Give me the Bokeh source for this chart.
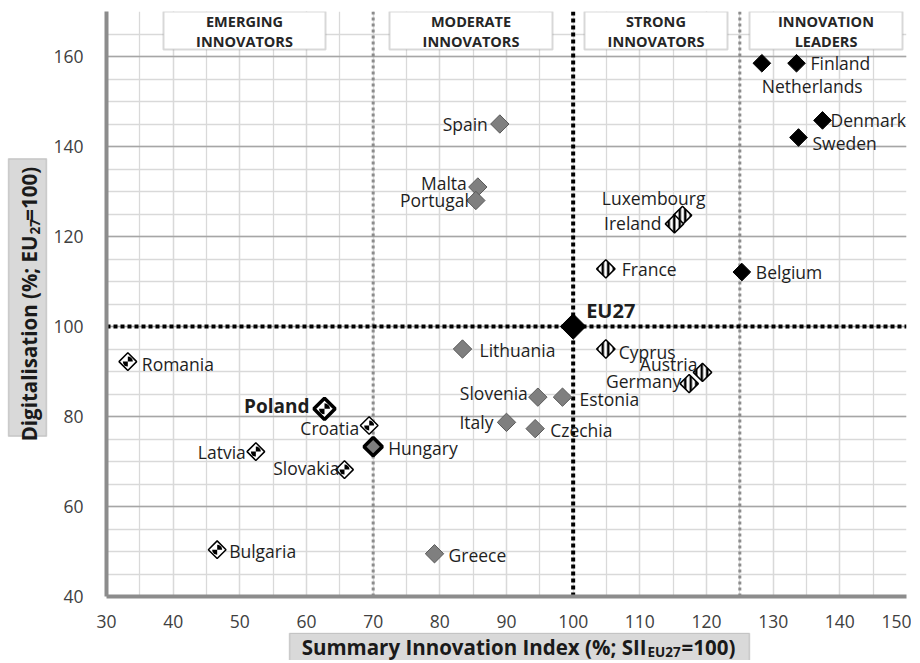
import numpy as np
from bokeh.plotting import figure
from bokeh.layouts import row, column
from bokeh.models import (Span, BoxAnnotation, Label, SingleIntervalTicker, Range1d,
                          ColumnDataSource)
from bokeh.core.properties import value, field
from bokeh.embed import file_html
from bokeh.resources import INLINE

# ---------------- data ----------------
countries = ["Finland", "Netherlands", "Denmark", "Sweden", "Belgium",
             "Luxembourg", "Ireland", "France", "Cyprus", "Austria", "Germany",
             "Estonia", "Spain", "Malta", "Portugal", "Lithuania", "Slovenia",
             "Italy", "Czechia", "Greece", "Hungary",
             "Croatia", "Poland", "Latvia", "Slovakia", "Romania", "Bulgaria",
             "EU27"]
sii = [133.5, 128.3, 137.4, 133.8, 125.3,
       116.4, 115.2, 104.9, 104.9, 119.4, 117.4,
       98.4, 89.0, 85.7, 85.4, 83.4, 94.7,
       90.0, 94.3, 79.2, 70.0,
       69.4, 62.7, 52.4, 65.7, 33.2, 46.6,
       100.0]
digitalisation = [158.5, 158.5, 145.8, 142.0, 112.1,
                  124.7, 122.8, 112.8, 95.0, 89.8, 87.3,
                  84.3, 145.0, 131.0, 128.0, 95.0, 84.3,
                  78.7, 77.3, 49.5, 73.3,
                  78.0, 81.7, 72.2, 68.2, 92.2, 50.4,
                  100.0]
group = ["leader"] * 5 + ["strong"] * 6 + ["moderate"] * 10 + ["emerging"] * 6 + ["eu"]

group_titles = [("EMERGING", "INNOVATORS"), ("MODERATE", "INNOVATORS"),
                ("STRONG", "INNOVATORS"), ("INNOVATION", "LEADERS")]
group_thresholds = [70, 125]      # group borders on the SII axis
eu_reference = 100                # EU27 = 100 on both axes

# ---------------- layout (window pixels) ----------------
ORG = 1                     # page origin of the layout
X_MIN, X_MAX, Y_MIN, Y_MAX = 30, 150, 40, 170
FRAME_L, FRAME_T, FRAME_W, FRAME_H = 107, 12, 800, 585
YFIG_W = 49                 # left strip holding the y title
MAIN_BOTTOM = 633           # window y where main canvas ends
XFIG_H = 28


def xd(px):
    return X_MIN + (px - FRAME_L) * (X_MAX - X_MIN) / FRAME_W


def yd(py):
    return Y_MAX - (py - FRAME_T) * (Y_MAX - Y_MIN) / FRAME_H


# label offsets (screen px): dx, dy (down), alignment
label_pos = {
    "Finland": (14, 0, "left"), "Netherlands": (0, 23, "left"),
    "Denmark": (8, 0, "left"), "Sweden": (14, 5, "left"),
    "Belgium": (14, 0, "left"), "Luxembourg": (23, -17, "right"),
    "Ireland": (-13, -1, "right"), "France": (16, 0, "left"),
    "Cyprus": (13, 3, "left"), "Austria": (-5, -8, "right"),
    "Germany": (-8, -3, "right"), "Estonia": (17, 2, "left"),
    "Spain": (-12, 0, "right"), "Malta": (-11, -4, "right"),
    "Portugal": (-7, -1, "right"), "Lithuania": (17, 1, "left"),
    "Slovenia": (-10, -4, "right"), "Italy": (-13, 0, "right"),
    "Czechia": (15, 1, "left"), "Greece": (14, 1, "left"),
    "Hungary": (15, 1, "left"), "Croatia": (-10, 2, "right"),
    "Poland": (-15, -3, "right"), "Latvia": (-10, 0, "right"),
    "Slovakia": (-5, -2, "right"), "Romania": (14, 2, "left"),
    "Bulgaria": (12, 1, "left"), "EU27": (13, -16, "left"),
}
box_px = [(164, 326), (390, 553), (585, 728), (750, 903)]

FONT = "Open Sans"

main_left = ORG + YFIG_W
p = figure(frame_width=FRAME_W, frame_height=FRAME_H,
           x_range=Range1d(X_MIN, X_MAX), y_range=Range1d(Y_MIN, Y_MAX),
           output_backend="svg", toolbar_location=None, title=None,
           min_border_left=FRAME_L - main_left, min_border_right=5,
           min_border_top=FRAME_T - ORG,
           min_border_bottom=MAIN_BOTTOM - (FRAME_T + FRAME_H),
           outline_line_color=None,
           background_fill_color="white", border_fill_color="white")

# axes
xt = SingleIntervalTicker(interval=10, num_minor_ticks=2)
yt = SingleIntervalTicker(interval=20, num_minor_ticks=4)
p.xaxis.ticker = xt
p.yaxis.ticker = yt
p.xgrid.ticker = xt
p.ygrid.ticker = yt
for ax in (p.xaxis, p.yaxis):
    ax.axis_line_color = "#8c8c8c"
    ax.axis_line_width = 4
    ax.major_tick_line_color = None
    ax.minor_tick_line_color = None
    ax.major_label_text_font = FONT
    ax.major_label_text_font_size = "17.5px"
    ax.major_label_text_color = "#404040"
p.xaxis.major_label_standoff = 12
p.yaxis.major_label_standoff = 17

p.xgrid.grid_line_color = "#d9d9d9"
p.xgrid.grid_line_width = 1.3
p.xgrid.minor_grid_line_color = "#d9d9d9"
p.xgrid.minor_grid_line_width = 1.3
p.ygrid.grid_line_color = "#a6a6a6"
p.ygrid.grid_line_width = 1.3
p.ygrid.minor_grid_line_color = "#d9d9d9"
p.ygrid.minor_grid_line_width = 1.3

# threshold lines
for t in group_thresholds:
    p.add_layout(Span(location=t, dimension="height", line_color="#8c8c8c",
                      line_width=3, line_dash="3 3", level="underlay"))
p.add_layout(Span(location=eu_reference, dimension="height", line_color="black",
                  line_width=4, line_dash="4 3", level="underlay"))
p.add_layout(Span(location=eu_reference, dimension="width", line_color="black",
                  line_width=4, line_dash="4 3", level="underlay"))

# group boxes
for (l, r), (t1, t2) in zip(box_px, group_titles):
    p.add_layout(BoxAnnotation(left=xd(l), right=xd(r), top=yd(12), bottom=yd(50),
                               fill_color="white", fill_alpha=1,
                               line_color="#7f7f7f", line_width=2, level="annotation"))
    for txt, py in ((t1, 22), (t2, 42)):
        p.add_layout(Label(x=xd((l + r) / 2), y=yd(py), text=txt,
                           text_align="center", text_baseline="middle",
                           text_font=FONT, text_font_style="bold",
                           text_font_size="14.5px", text_color="#262626"))

# data source
dx = [label_pos[c][0] for c in countries]
dy = [label_pos[c][1] for c in countries]
al = [label_pos[c][2] for c in countries]
src = ColumnDataSource(dict(name=countries, x=sii, y=digitalisation, g=group,
                            dx=dx, dy=dy, align=al))

special = ["Poland", "Hungary", "EU27"]


def sub(names=None, groups=None, exclude=()):
    idx = [i for i, c in enumerate(countries)
           if (names is None or c in names) and (groups is None or group[i] in groups)
           and c not in exclude]
    return ColumnDataSource({k: [v[i] for i in idx] for k, v in src.data.items()})


ANG = np.pi / 4

p.scatter("x", "y", source=sub(groups=["moderate"], exclude=special), marker="square",
          angle=ANG, size=13, fill_color="#7f7f7f", line_color="#595959", line_width=1)

p.scatter("x", "y", source=sub(groups=["leader"]), marker="square", angle=ANG,
          size=12.5, fill_color="black", line_color="black")

p.scatter("x", "y", source=sub(groups=["strong"]), marker="square", angle=ANG,
          size=13, fill_color="white", line_color="black", line_width=1.5,
          hatch_pattern="vertical_line", hatch_color="black", hatch_weight=2.5,
          hatch_scale=5.5)

em = sub(groups=["emerging"], exclude=special)
p.scatter("x", "y", source=em, marker="square", angle=ANG, size=12.5,
          fill_color="white", line_color="black", line_width=1.5)
for a0 in (0, np.pi):
    p.wedge("x", "y", source=em, radius=5, radius_units="screen",
            start_angle=a0, end_angle=a0 + np.pi / 2, fill_color="black", line_color=None)

# Hungary (highlighted moderate)
p.scatter("x", "y", source=sub(names=["Hungary"]), marker="square", angle=ANG,
          size=13, fill_color="#7f7f7f", line_color="black", line_width=3.5)
# Poland (highlighted emerging)
pl = sub(names=["Poland"])
p.scatter("x", "y", source=pl, marker="square", angle=ANG, size=15,
          fill_color="white", line_color="black", line_width=3.5)
for a0 in (0, np.pi):
    p.wedge("x", "y", source=pl, radius=5.5, radius_units="screen",
            start_angle=a0, end_angle=a0 + np.pi / 2, fill_color="black", line_color=None)
# EU27
p.scatter("x", "y", source=sub(names=["EU27"]), marker="square", angle=ANG, size=18,
          fill_color="black", line_color="black")

# country labels
p.text("x", "y", text="name", source=sub(exclude=("Poland", "EU27")),
       x_offset="dx", y_offset="dy",
       text_align=field("align"), text_baseline="middle",
       text_font=value(FONT), text_font_size="17.5px", text_color="#1e1e1e")
p.text("x", "y", text="name", source=sub(names=["Poland"]), x_offset="dx", y_offset="dy",
       text_align=field("align"), text_baseline="middle", text_font_style="bold",
       text_font=value(FONT), text_font_size="19px", text_color="#1e1e1e")
p.text("x", "y", text="name", source=sub(names=["EU27"]), x_offset="dx", y_offset="dy",
       text_align=field("align"), text_baseline="middle", text_font_style="bold",
       text_font=value(FONT), text_font_size="20px", text_color="#1e1e1e")

tkw = dict(text_font=FONT, text_font_style="bold", text_color="#1a1a1a",
           text_baseline="middle")
BOX_FILL, BOX_LINE = "#d9d9d9", "#7f7f7f"
TITLE_SIZE, SUB_SIZE = "20.5px", "13.5px"

# ---- left strip: y-axis title box (window px -> strip coords) ----
YH = MAIN_BOTTOM - ORG
yf = figure(width=YFIG_W, height=YH, x_range=Range1d(0, YFIG_W), y_range=Range1d(0, YH),
            x_axis_type=None, y_axis_type=None, output_backend="svg",
            toolbar_location=None, title=None, min_border=0, outline_line_color=None,
            border_fill_color="white", background_fill_color="white")


def sx(wx):
    return wx - ORG


def sy(wy):
    return MAIN_BOTTOM - wy


yf.add_layout(BoxAnnotation(left=sx(9), right=sx(47), top=sy(160), bottom=sy(460),
                            fill_color=BOX_FILL, fill_alpha=1, line_color=BOX_LINE,
                            line_width=1.5))
yf.add_layout(Label(x=sx(29), y=sy(243), text="Digitalisation (%; EU", angle=np.pi / 2,
                    text_align="right", text_font_size=TITLE_SIZE, **tkw))
yf.add_layout(Label(x=sx(35), y=sy(242), text="27", angle=np.pi / 2,
                    text_align="left", text_font_size=SUB_SIZE, **tkw))
yf.add_layout(Label(x=sx(29), y=sy(227), text="=100)", angle=np.pi / 2,
                    text_align="left", text_font_size=TITLE_SIZE, **tkw))

# ---- bottom strip: x-axis title box ----
XW = FRAME_L - ORG + FRAME_W + 5
xf = figure(width=XW, height=XFIG_H, x_range=Range1d(0, XW), y_range=Range1d(0, XFIG_H),
            x_axis_type=None, y_axis_type=None, output_backend="svg",
            toolbar_location=None, title=None, min_border=0, outline_line_color=None,
            border_fill_color="white", background_fill_color="white")


def bx(wx):
    return wx - ORG


def by(wy):
    return MAIN_BOTTOM + XFIG_H - wy


xf.add_layout(BoxAnnotation(left=bx(290), right=bx(750), top=by(MAIN_BOTTOM + 0.75),
                            bottom=by(700), fill_color=BOX_FILL, fill_alpha=1,
                            line_color=BOX_LINE, line_width=1.5))
xf.add_layout(Label(x=bx(647), y=by(647), text="Summary Innovation Index (%; SII",
                    text_align="right", text_font_size=TITLE_SIZE, **tkw))
xf.add_layout(Label(x=bx(648), y=by(652), text="EU27",
                    text_align="left", text_font_size=SUB_SIZE, **tkw))
xf.add_layout(Label(x=bx(682), y=by(647), text="=100)",
                    text_align="left", text_font_size=TITLE_SIZE, **tkw))

layout = column(row(yf, p, spacing=0), xf, spacing=0)
open("out.html", "w").write(file_html(layout, INLINE))
